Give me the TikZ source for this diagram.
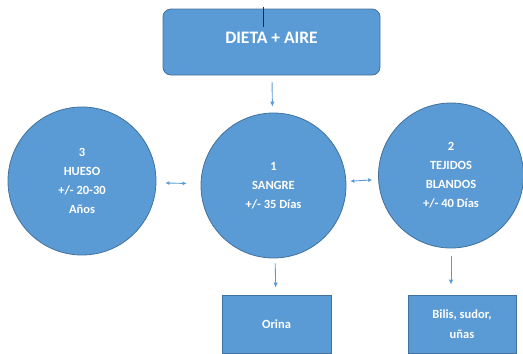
\documentclass[tikz,border=0pt]{standalone}
\usepackage{fontspec}
\setmainfont{Carlito}
\usetikzlibrary{arrows.meta}
\definecolor{azul}{RGB}{91,155,213}
\definecolor{borde}{RGB}{65,113,156}

\begin{document}
\begin{tikzpicture}[x=1pt, y=-1pt,
  caja/.style={rectangle, fill=azul, draw=borde, line width=0.8pt, text=white, align=center},
  circulo/.style={circle, fill=azul, draw=borde, line width=0.8pt, text=white, align=center,
    inner sep=0pt, minimum size=145pt, font=\bfseries\fontsize{12.5}{19}\selectfont},
  flecha/.style={draw=azul, line width=0.9pt, -{Latex[length=5pt,width=4.5pt]}},
  flechas/.style={draw=azul, line width=0.9pt, {Latex[length=4pt,width=4pt]}-{Latex[length=4pt,width=4pt]}}]
  \useasboundingbox (0,0) rectangle (523,354);

  % Caja de arriba
  \node[caja, rounded corners=8pt, minimum width=217pt, minimum height=66pt,
    font=\bfseries\fontsize{17.5}{22}\selectfont] (dieta) at (271.5,42) {\raisebox{8pt}{DIETA + AIRE}};
  \draw[gray!30!black, line width=0.8pt] (263,7) -- (263,27);

  % Circulos
  \node[circulo, minimum size=148pt] (hueso) at (82,181) {3\\HUESO\\+/- 20-30\\Años};
  \node[circulo] (sangre) at (273.5,185.5) {1\\SANGRE\\+/- 35 Días};
  \node[circulo] (tejidos) at (451,175.5) {2\\TEJIDOS\\BLANDOS\\+/- 40 Días};

  % Cajas de abajo
  \node[caja, minimum width=109pt, minimum height=58pt, font=\bfseries\fontsize{12.5}{20}\selectfont] (orina) at (276.5,324) {Orina};
  \node[caja, minimum width=108pt, minimum height=58pt, font=\bfseries\fontsize{12.5}{20}\selectfont] (bilis) at (462,324) {Bilis, sudor,\\uñas};

  % Flechas
  \draw[flecha, shorten <=7pt, shorten >=6pt] (dieta) -- (sangre);
  \draw[flechas, shorten <=9pt, shorten >=14pt] (hueso) -- (sangre);
  \draw[flechas, shorten <=4pt, shorten >=6pt] (sangre) -- (tejidos);
  \draw[flecha, shorten <=5pt, shorten >=7pt] (sangre) -- (orina);
  \draw[flecha, shorten <=8pt, shorten >=10pt] (tejidos.south) -- (tejidos.south |- bilis.north);
\end{tikzpicture}
\end{document}
